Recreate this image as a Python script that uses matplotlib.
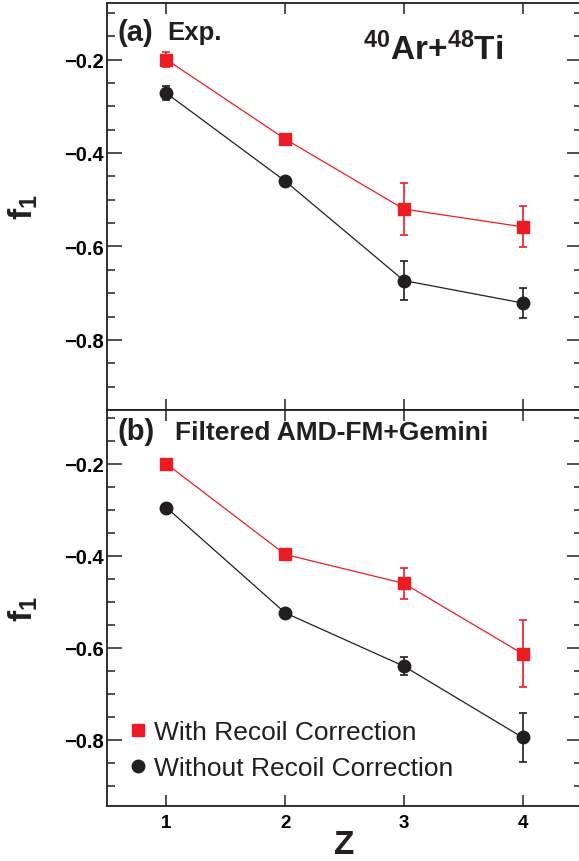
import matplotlib
matplotlib.use("Agg")
import matplotlib.pyplot as plt
from matplotlib.lines import Line2D
from matplotlib.ticker import MultipleLocator, FixedLocator

plt.rcParams['font.family'] = ['Liberation Sans', 'DejaVu Sans']
plt.rcParams['mathtext.fontset'] = 'custom'
plt.rcParams['mathtext.rm'] = 'Liberation Sans'
plt.rcParams['mathtext.bf'] = 'Liberation Sans:bold'
plt.rcParams['mathtext.it'] = 'Liberation Sans:italic'

# === Data ===
Z = [1, 2, 3, 4]

# (a) experiment
exp_with = [-0.200, -0.370, -0.520, -0.558]
exp_with_err = [0.017, 0.006, 0.055, 0.044]
exp_without = [-0.272, -0.460, -0.673, -0.721]
exp_without_err = [0.015, 0.006, 0.041, 0.033]

# (b) filtered AMD-FM+Gemini
sim_with = [-0.200, -0.397, -0.460, -0.613]
sim_with_err = [0.004, 0.004, 0.033, 0.073]
sim_without = [-0.295, -0.524, -0.640, -0.795]
sim_without_err = [0.004, 0.004, 0.020, 0.054]

RED = '#ed1c24'
BLACK = '#231f20'

fig = plt.figure(figsize=(5.79, 8.62), dpi=100)
W, H = 579.0, 862.0
x0, x1 = 107, 582
ax_a = fig.add_axes([x0 / W, 1 - 411 / H, (x1 - x0) / W, 407 / H])
ax_b = fig.add_axes([x0 / W, 1 - 807 / H, (x1 - x0) / W, 396 / H])


def draw(ax, yw, ew, yo, eo):
    ax.errorbar(Z, yw, yerr=ew, color=RED, lw=0.9, marker='s', ms=8.5,
                mec=RED, elinewidth=1.2, capsize=3, capthick=1.2, zorder=3)
    ax.errorbar(Z, yo, yerr=eo, color=BLACK, lw=0.9, marker='o', ms=9,
                mec=BLACK, elinewidth=1.2, capsize=3, capthick=1.2, zorder=3)
    ax.set_xlim(0.5, 4.5)
    ax.xaxis.set_major_locator(FixedLocator(Z))
    ax.yaxis.set_major_locator(MultipleLocator(0.2))
    ax.yaxis.set_minor_locator(MultipleLocator(0.05))
    ax.tick_params(axis='both', which='both', direction='in', top=True, right=True,
                   color=BLACK, width=1.1)
    ax.tick_params(axis='y', which='major', length=11, pad=2.5, labelsize=14.5)
    ax.tick_params(axis='y', which='minor', length=6)
    ax.tick_params(axis='x', which='major', length=8, pad=6, labelsize=13.5)
    for lab in ax.get_xticklabels() + ax.get_yticklabels():
        lab.set_fontweight('bold')
    for s in ax.spines.values():
        s.set_linewidth(1.3)
        s.set_color(BLACK)
    ax.set_ylabel(r'$\mathbf{f_1}$', fontsize=24, color=BLACK)
    ax.yaxis.set_label_coords(-0.14, 0.5)


draw(ax_a, exp_with, exp_with_err, exp_without, exp_without_err)
draw(ax_b, sim_with, sim_with_err, sim_without, sim_without_err)

ax_a.set_ylim(-0.95, -0.079)
ax_b.set_ylim(-0.944, -0.083)
ax_a.tick_params(axis='x', labelbottom=False)

ax_a.text(0.023, 0.929, '(a)', transform=ax_a.transAxes, fontsize=21,
          fontweight='bold', va='center', color=BLACK)
ax_a.text(0.126, 0.929, 'Exp.', transform=ax_a.transAxes, fontsize=18.5,
          fontweight='bold', va='center', color=BLACK)
ax_a.text(0.539, 0.862, r'$\mathbf{^{40}Ar{+}^{48}Ti}$', transform=ax_a.transAxes,
          fontsize=24, va='baseline', color=BLACK)

ax_b.text(0.023, 0.948, '(b)', transform=ax_b.transAxes, fontsize=21,
          fontweight='bold', va='center', color=BLACK)
ax_b.text(0.143, 0.944, 'Filtered AMD-FM+Gemini', transform=ax_b.transAxes,
          fontsize=19, fontweight='bold', va='center', color=BLACK)

ax_b.set_xlabel('Z', fontsize=24, fontweight='bold', color=BLACK)
ax_b.xaxis.set_label_coords(0.5, -0.058)

handles = [Line2D([], [], ls='none', marker='s', ms=8.5, color=RED),
           Line2D([], [], ls='none', marker='o', ms=9, color=BLACK)]
ax_b.legend(handles, ['With Recoil Correction', 'Without Recoil Correction'],
            loc='lower left', bbox_to_anchor=(0.043, 0.065), frameon=False,
            fontsize=19, handlelength=0.8, handletextpad=0.2,
            labelspacing=0.46, borderpad=0, borderaxespad=0, labelcolor=BLACK)

fig.savefig('out.png', dpi=100)
